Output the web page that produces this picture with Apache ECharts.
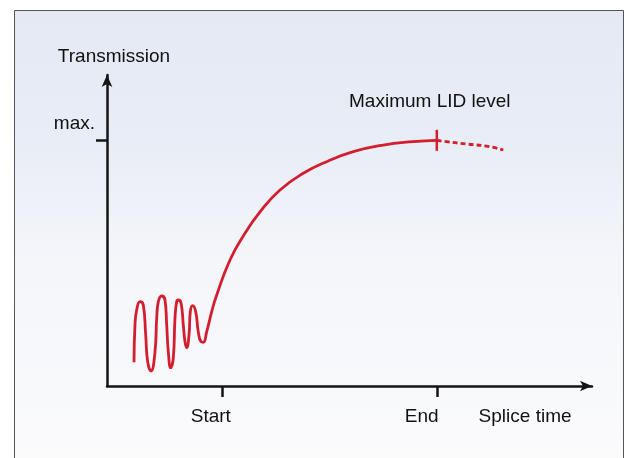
<!DOCTYPE html>
<html>
<head>
<meta charset="utf-8">
<style>
html,body{margin:0;padding:0;background:#fff;}
#chart{width:626px;height:458px;}
</style>
<script src="https://cdn.jsdelivr.net/npm/echarts@6/dist/echarts.min.js"></script>
</head>
<body>
<div id="chart"></div>
<script>
// Axis values (arbitrary units: x = splice time 0..100, y = transmission 0..100)
const xTickValues = [23.7, 68];                    // Start, End ticks
const xLabelNames = ['Start', 'End', 'Splice time'];
const xLabelValues = [21.4, 64.9, 86.2];           // label centres
const yTickValues = [79];                          // max. tick
const yLabelValues = [84.2];
const yLabelNames = ['max.'];
const yAxisName = 'Transmission';
const annotation = 'Maximum LID level';

// Measured curve (solid part, up to End)
const curveX = [5.57, 5.77, 6.12, 6.80, 7.48, 7.98, 8.39, 9.07, 9.90, 10.25, 10.58, 11.28, 11.96, 12.31, 12.64, 13.13,
  13.67, 14.02, 14.37, 14.70, 15.26, 15.73, 16.08, 16.43, 16.91, 17.18, 17.67, 18.29, 18.82, 19.38, 19.86,
  20.56, 21.59, 22.62, 25.36, 28.10, 31.55, 35.67, 40.47, 45.30, 50.78, 56.97, 63.15, 68.0];
const curveY = [7.62, 19.61, 24.44, 27.11, 26.05, 16.40, 7.81, 4.82, 11.03, 21.86, 27.11, 28.94, 27.65, 19.61, 11.03, 5.88,
  9.00, 21.86, 27.11, 27.65, 26.69, 19.61, 14.24, 12.32, 16.40, 23.89, 25.82, 23.89, 17.46, 14.24, 14.05,
  17.46, 23.89, 29.26, 40.51, 48.23, 55.95, 63.02, 68.39, 72.12, 75.34, 77.49, 78.55, 79.0];
// Dashed continuation after End
const dashX = [68.0, 70.04, 74.16, 78.97, 81.71];
const dashY = [79.0, 78.55, 77.81, 76.95, 75.88];

const solid = curveX.map((x, i) => [x, curveY[i]]);
const dashed = dashX.map((x, i) => [x, dashY[i]]);

const chart = echarts.init(document.getElementById('chart'));
const font = '"Liberation Sans", Arial, sans-serif';
const red = '#d21e2f';
const axisColor = '#141414';

chart.setOption({
  animation: false,
  backgroundColor: '#ffffff',
  graphic: [{
    type: 'rect',
    z: -100,
    silent: true,
    shape: {x: 14.5, y: 10.5, width: 609, height: 460},
    style: {
      fill: {
        type: 'linear', x: 0, y: 0, x2: 0, y2: 1,
        colorStops: [
          {offset: 0, color: '#e4e9f4'},
          {offset: 0.3, color: '#e9edf6'},
          {offset: 0.55, color: '#f4f6fa'},
          {offset: 1, color: '#fbfbfc'}
        ]
      },
      stroke: '#555',
      lineWidth: 1
    }
  }],
  grid: {left: 107, right: 34, top: 75, bottom: 72, containLabel: false},
  xAxis: {
    type: 'value', min: 0, max: 100,
    splitLine: {show: false},
    axisLine: {
      show: true, onZero: false,
      symbol: ['none', 'arrow'], symbolSize: [8, 12],
      lineStyle: {color: axisColor, width: 2.5}
    },
    axisTick: {
      show: true, inside: false, length: 11,
      customValues: xTickValues,
      lineStyle: {color: axisColor, width: 2.5}
    },
    axisLabel: {
      show: true, margin: 21,
      customValues: xLabelValues,
      formatter: v => xLabelNames[xLabelValues.indexOf(v)] || '',
      color: '#111', fontSize: 19, fontFamily: font
    }
  },
  yAxis: {
    type: 'value', min: 0, max: 100,
    splitLine: {show: false},
    axisLine: {
      show: true, onZero: false,
      symbol: ['none', 'arrow'], symbolSize: [8, 12],
      lineStyle: {color: axisColor, width: 2.5}
    },
    axisTick: {
      show: true, inside: false, length: 11,
      customValues: yTickValues,
      lineStyle: {color: axisColor, width: 2.5}
    },
    axisLabel: {
      show: true, margin: 12,
      customValues: yLabelValues,
      formatter: v => yLabelNames[yLabelValues.indexOf(v)] || '',
      color: '#111', fontSize: 19, fontFamily: font
    },
    name: yAxisName,
    nameLocation: 'end',
    nameGap: 18,
    nameTextStyle: {
      color: '#111', fontSize: 19, fontFamily: font,
      align: 'center', verticalAlign: 'middle',
      padding: [0, 0, 0, 14]
    }
  },
  series: [
    {
      type: 'line',
      data: solid,
      smooth: 0.5,
      showSymbol: false,
      lineStyle: {color: red, width: 2.8},
      markPoint: {
        symbol: 'rect',
        symbolSize: [2.5, 21],
        itemStyle: {color: red},
        data: [{
          coord: [68, 79],
          label: {
            show: true, position: 'top', distance: 19, offset: [-7, 0],
            formatter: annotation,
            color: '#111', fontSize: 19, fontFamily: font
          }
        }]
      }
    },
    {
      type: 'line',
      data: dashed,
      smooth: 0.5,
      showSymbol: false,
      lineStyle: {color: red, width: 2.8, type: [5, 3]}
    }
  ]
});
</script>
</body>
</html>
